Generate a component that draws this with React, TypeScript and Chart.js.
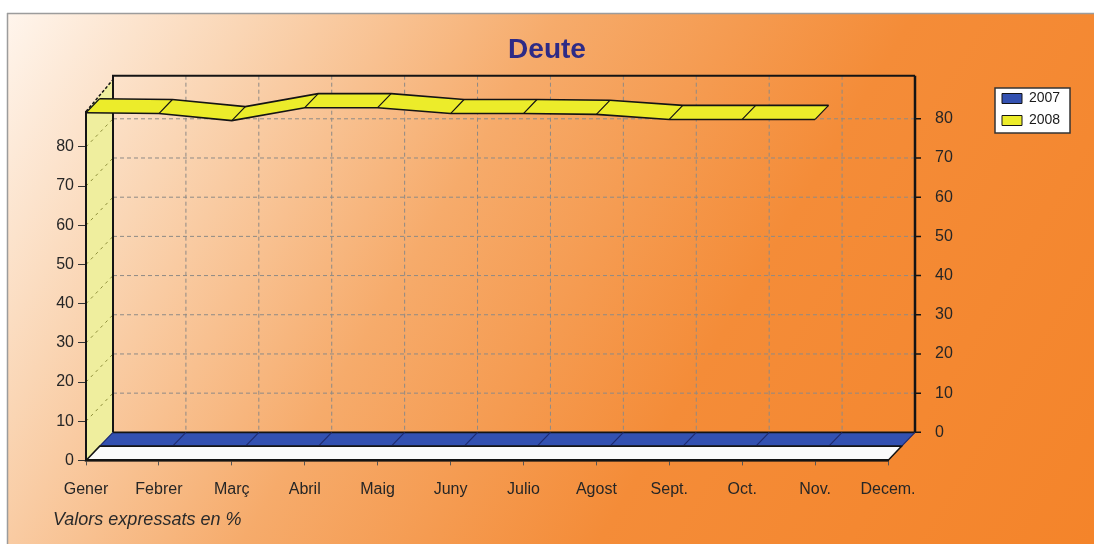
import React, { useEffect, useRef } from "react";
import { Chart, registerables } from "chart.js";

Chart.register(...registerables);

// ---------- data ----------
const MONTHS = ["Gener", "Febrer", "Març", "Abril", "Maig", "Juny", "Julio", "Agost", "Sept.", "Oct.", "Nov.", "Decem."];
const SERIES_LABELS = ["2007", "2008"];
const SERIES_2007 = [0, 0, 0, 0, 0, 0, 0, 0, 0, 0, 0, 0];
const SERIES_2008 = [88.7, 88.5, 86.7, 90.0, 90.0, 88.5, 88.5, 88.3, 87.0, 87.0, 87.0, null];
const Y_TICKS = [0, 10, 20, 30, 40, 50, 60, 70, 80];
const TITLE = "Deute";
const FOOTER = "Valors expressats en %";

// ---------- layout / style ----------
const W = 1094;
const H = 544;
const FONT = "'Liberation Sans', Arial, Helvetica, sans-serif";
const Y_MAX = 89;
const SIDE_TOP = 90;
const WALL_TOP = 91;
const DX = 27;
const DY = 28;
const PLOT_TOP = 112;
const PLOT_BOTTOM = 460;
const Y2_MIN = (-DY * Y_MAX) / (PLOT_BOTTOM - PLOT_TOP);
const Y2_MAX = Y_MAX + Y2_MIN;

const BLUE = "#3351b1";
const YELLOW = "#ecec2a";
const SIDE = "#efee9e";
const FLOOR = "#fbfbfb";
const INK = "#141414";
const GRID = "#8e8a86";

const depthPlugin = {
  id: "depth3d",
  afterLayout(chart: any) {
    const lg = chart.legend;
    if (lg) {
      const w = lg.width;
      const h = lg.height;
      lg.left = 994;
      lg.top = 83.5;
      lg.right = lg.left + w;
      lg.bottom = lg.top + h;
    }
    for (const b of chart.boxes) {
      if (b && b.options && b.options.text === FOOTER) {
        const r = b.right;
        b.left = 53;
        b.right = r;
      }
    }
  },
  beforeDraw(chart: any) {
    const ctx: CanvasRenderingContext2D = chart.ctx;
    const xs = chart.scales.x;
    const ys = chart.scales.y;
    const ys2 = chart.scales.y2;
    const n = MONTHS.length;
    const xf = (i: number) => xs.getPixelForValue(i);
    const px = (i: number, z: number) => xf(i) + DX * z;
    const py = (v: number, z: number) => {
      const f = ys.getPixelForValue(v);
      const b = ys2.getPixelForValue(v);
      return f + (b - f) * z;
    };

    ctx.save();
    // background
    ctx.fillStyle = "#ffffff";
    ctx.fillRect(0, 0, chart.width, chart.height);
    const g = ctx.createLinearGradient(0, 0, 1044, 626);
    g.addColorStop(0, "#fff7f0");
    g.addColorStop(0.18, "#fad6b5");
    g.addColorStop(0.4, "#f6ab6b");
    g.addColorStop(0.65, "#f48c38");
    g.addColorStop(1, "#f4842a");
    ctx.fillStyle = g;
    ctx.fillRect(8, 14, chart.width - 8, chart.height - 14);
    ctx.strokeStyle = "#9c9c9c";
    ctx.lineWidth = 1.5;
    ctx.beginPath();
    ctx.moveTo(7, 13.5);
    ctx.lineTo(chart.width, 13.5);
    ctx.moveTo(7.5, 13);
    ctx.lineTo(7.5, chart.height);
    ctx.stroke();

    // back wall dashed grid
    ctx.strokeStyle = GRID;
    ctx.lineWidth = 1;
    ctx.setLineDash([4, 3]);
    ctx.beginPath();
    for (const v of Y_TICKS) {
      if (v === 0) continue;
      ctx.moveTo(px(0, 1), py(v, 1));
      ctx.lineTo(px(n - 1, 1), py(v, 1));
    }
    for (let i = 1; i < n - 1; i++) {
      ctx.moveTo(px(i, 1), py(WALL_TOP, 1));
      ctx.lineTo(px(i, 1), py(0, 1));
    }
    ctx.stroke();
    ctx.setLineDash([]);

    // left side face
    ctx.fillStyle = SIDE;
    ctx.beginPath();
    ctx.moveTo(px(0, 0), py(0, 0));
    ctx.lineTo(px(0, 0), py(Y_MAX, 0));
    ctx.lineTo(px(0, 1), py(SIDE_TOP, 1));
    ctx.lineTo(px(0, 1), py(0, 1));
    ctx.closePath();
    ctx.fill();
    ctx.strokeStyle = "#8f8f3a";
    ctx.lineWidth = 1;
    ctx.setLineDash([3, 4]);
    ctx.beginPath();
    for (const v of Y_TICKS) {
      if (v === 0) continue;
      ctx.moveTo(px(0, 0), py(v, 0));
      ctx.lineTo(px(0, 1), py(v, 1));
    }
    ctx.stroke();
    ctx.setLineDash([]);

    // back wall edges
    ctx.strokeStyle = INK;
    ctx.lineWidth = 2;
    ctx.beginPath();
    ctx.moveTo(px(0, 1), py(0, 1));
    ctx.lineTo(px(0, 1), py(WALL_TOP, 1));
    ctx.lineTo(px(n - 1, 1), py(WALL_TOP, 1));
    ctx.stroke();
    ctx.lineWidth = 2.5;
    ctx.beginPath();
    ctx.moveTo(px(n - 1, 1), py(WALL_TOP, 1));
    ctx.lineTo(px(n - 1, 1), py(0, 1));
    ctx.stroke();

    // right-axis tick marks on back wall
    ctx.lineWidth = 1.5;
    ctx.beginPath();
    for (const v of Y_TICKS) {
      ctx.moveTo(px(n - 1, 1), py(v, 1));
      ctx.lineTo(px(n - 1, 1) + 6, py(v, 1));
    }
    ctx.stroke();

    const ribbon = (vals: (number | null)[], z0: number, z1: number, fill: string, sep: string) => {
      ctx.fillStyle = fill;
      for (let i = 0; i < n - 1; i++) {
        const a = vals[i];
        const b = vals[i + 1];
        if (a == null || b == null) continue;
        ctx.beginPath();
        ctx.moveTo(px(i, z0), py(a, z0));
        ctx.lineTo(px(i + 1, z0), py(b, z0));
        ctx.lineTo(px(i + 1, z1), py(b, z1));
        ctx.lineTo(px(i, z1), py(a, z1));
        ctx.closePath();
        ctx.fill();
      }
      ctx.strokeStyle = INK;
      ctx.lineWidth = 1.6;
      for (const z of [z0, z1]) {
        ctx.beginPath();
        let started = false;
        for (let i = 0; i < n; i++) {
          const v = vals[i];
          if (v == null) {
            started = false;
            continue;
          }
          if (!started) ctx.moveTo(px(i, z), py(v, z));
          else ctx.lineTo(px(i, z), py(v, z));
          started = true;
        }
        ctx.stroke();
      }
      ctx.strokeStyle = sep;
      ctx.lineWidth = 1.2;
      ctx.beginPath();
      for (let i = 0; i < n; i++) {
        const v = vals[i];
        if (v == null) continue;
        ctx.moveTo(px(i, z0), py(v, z0));
        ctx.lineTo(px(i, z1), py(v, z1));
      }
      ctx.stroke();
    };

    // 2007 series (back slot)
    ribbon(SERIES_2007, 0.5, 1, BLUE, "#1c2a72");

    // floor of the front slot
    ctx.fillStyle = FLOOR;
    ctx.beginPath();
    ctx.moveTo(px(0, 0), py(0, 0));
    ctx.lineTo(px(n - 1, 0), py(0, 0));
    ctx.lineTo(px(n - 1, 0.5), py(0, 0.5));
    ctx.lineTo(px(0, 0.5), py(0, 0.5));
    ctx.closePath();
    ctx.fill();
    ctx.strokeStyle = INK;
    ctx.lineWidth = 1.5;
    ctx.stroke();

    // side top edge
    ctx.setLineDash([3, 2]);
    ctx.lineWidth = 1.5;
    ctx.beginPath();
    ctx.moveTo(px(0, 0), py(Y_MAX, 0));
    ctx.lineTo(px(0, 1), py(SIDE_TOP, 1));
    ctx.stroke();
    ctx.setLineDash([]);

    // 2008 series (front slot)
    ribbon(SERIES_2008, 0, 0.5, YELLOW, INK);

    // legend frame
    const lg = chart.legend;
    if (lg) {
      ctx.fillStyle = "#ffffff";
      ctx.fillRect(lg.left + 1, lg.top + 4.5, 75, 45);
      ctx.strokeStyle = "#333333";
      ctx.lineWidth = 1.5;
      ctx.strokeRect(lg.left + 1, lg.top + 4.5, 75, 45);
    }
    ctx.restore();
  },
};

export default function App() {
  const ref = useRef<HTMLCanvasElement>(null);

  useEffect(() => {
    const canvas = ref.current;
    if (!canvas) return;
    const chart = new Chart(canvas, {
      type: "line",
      data: {
        labels: MONTHS,
        datasets: [
          {
            label: SERIES_LABELS[0],
            data: SERIES_2007,
            backgroundColor: BLUE,
            borderColor: INK,
            borderWidth: 1,
            showLine: false,
            pointRadius: 0,
            pointHoverRadius: 0,
          },
          {
            label: SERIES_LABELS[1],
            data: SERIES_2008,
            backgroundColor: YELLOW,
            borderColor: INK,
            borderWidth: 1,
            showLine: false,
            pointRadius: 0,
            pointHoverRadius: 0,
          },
        ],
      },
      options: {
        responsive: false,
        animation: false,
        events: [],
        devicePixelRatio: 1,
        layout: { padding: 0 },
        scales: {
          x: {
            type: "category",
            offset: false,
            grid: { display: true, drawOnChartArea: false, drawTicks: true, tickLength: 5, tickColor: "#555" },
            border: { display: true, color: INK, width: 2.5 },
            ticks: {
              color: "#262626",
              font: { family: FONT, size: 16 },
              padding: 15,
              maxRotation: 0,
              autoSkip: false,
            },
            afterFit: (s: any) => {
              s.height = 49;
            },
          },
          y: {
            type: "linear",
            position: "left",
            min: 0,
            max: Y_MAX,
            afterBuildTicks: (s: any) => {
              s.ticks = Y_TICKS.map((v) => ({ value: v }));
            },
            grid: { display: true, drawOnChartArea: false, drawTicks: true, tickLength: 8, tickColor: "#333" },
            border: { display: true, color: INK, width: 2 },
            ticks: { color: "#262626", font: { family: FONT, size: 16 }, padding: 4 },
            afterFit: (s: any) => {
              s.width = 86;
            },
          },
          y2: {
            type: "linear",
            position: "right",
            min: Y2_MIN,
            max: Y2_MAX,
            afterBuildTicks: (s: any) => {
              s.ticks = Y_TICKS.map((v) => ({ value: v }));
            },
            grid: { display: false },
            border: { display: false },
            ticks: { color: "#262626", font: { family: FONT, size: 16 }, padding: 39 },
            afterFit: (s: any) => {
              s.width = 206;
            },
          },
        },
        plugins: {
          legend: {
            display: true,
            position: "chartArea",
            align: "start",
            labels: {
              boxWidth: 20,
              boxHeight: 10,
              padding: 8,
              color: "#1a1a1a",
              font: { family: FONT, size: 14 },
            },
          },
          title: {
            display: true,
            text: TITLE,
            color: "#2e2b86",
            font: { family: FONT, size: 28, weight: "bold" },
            padding: { top: 33, bottom: 45 },
          },
          subtitle: {
            display: true,
            text: FOOTER,
            position: "bottom",
            align: "start",
            color: "#2a2a2a",
            font: { family: FONT, size: 18, style: "italic" },
            padding: { top: 0, bottom: 13 },
          },
          tooltip: { enabled: false },
        },
      } as any,
      plugins: [depthPlugin as any],
    });
    return () => chart.destroy();
  }, []);

  return (
    <div style={{ position: "fixed", left: 0, top: 0, width: W, height: H }}>
      <canvas ref={ref} width={W} height={H} style={{ display: "block", width: W, height: H }} />
    </div>
  );
}
